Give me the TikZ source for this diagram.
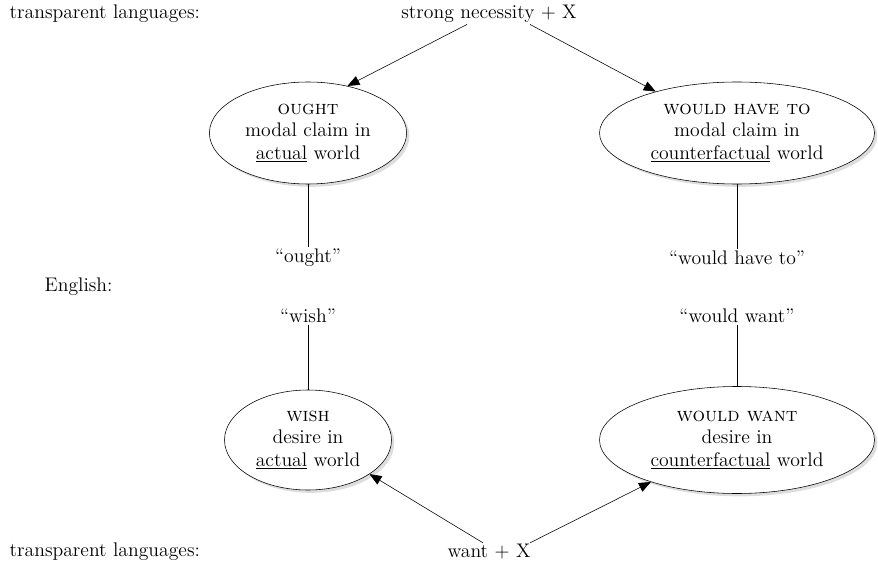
\documentclass[tikz,border=0pt]{standalone}
\usepackage{tikz}
\usetikzlibrary{arrows.meta,positioning,shapes.geometric,shadows}

\begin{document}
\begin{tikzpicture}[
    txt/.style={inner sep=1pt, font=\fontsize{14}{16}\selectfont},
    modal/.style={ellipse, draw, thin, fill=white, inner sep=0pt, align=center, minimum height=2.55cm, font=\fontsize{14}{16}\selectfont, drop shadow={shadow xshift=2pt, shadow yshift=-2pt, fill=gray!45, opacity=0.6}},
    arrow/.style={-{Triangle[length=3mm, width=2.4mm]}, thin}
]
\useasboundingbox (0,0) rectangle (21.95,14.225);
% top row
\node[txt, anchor=west] (translA) at (0.2,13.875) {transparent languages:};
\node[txt] (necess) at (12.225,13.875) {strong necessity + X};
\node[modal, minimum width=4.93cm] (ought) at (7.7,10.9) {\textsc{ought}\\modal claim in\\\underline{actual} world};
\node[modal, minimum width=6.875cm] (wht) at (18.425,10.9) {\textsc{would have to}\\modal claim in\\\underline{counterfactual} world};
% English words
\node[txt] (oughtw) at (7.7,7.775) {``ought''};
\node[txt] (whtw) at (18.425,7.775) {``would have to''};
\node[txt, anchor=west] (engl) at (1.075,7.05) {English:};
\node[txt] (wishw) at (7.7,6.325) {``wish''};
\node[txt] (wwantw) at (18.425,6.325) {``would want''};
% bottom row
\node[modal, minimum width=4.175cm, minimum height=2.5cm] (wish) at (7.7,3.225) {\textsc{wish}\\desire in\\\underline{actual} world};
\node[modal, minimum width=6.875cm, minimum height=2.675cm] (wwant) at (18.425,3.225) {\textsc{would want}\\desire in\\\underline{counterfactual} world};
\node[txt, anchor=west] (translB) at (0.2,0.425) {transparent languages:};
\node[txt] (want) at (12.225,0.425) {want + X};
% connectors
\draw[arrow] ([xshift=-0.55cm]necess.south) -- (ought.50);
\draw[arrow] ([xshift=1.025cm]necess.south) -- (wht.153);
\draw[thin] (ought) -- (oughtw);
\draw[thin] (wht) -- (whtw);
\draw[thin] (wishw) -- (wish);
\draw[thin] (wwantw) -- (wwant);
\draw[arrow] ([xshift=-0.15cm]want.north) -- (wish.331);
\draw[arrow] ([xshift=1.025cm]want.north) -- (wwant.206);
\end{tikzpicture}
\end{document}
